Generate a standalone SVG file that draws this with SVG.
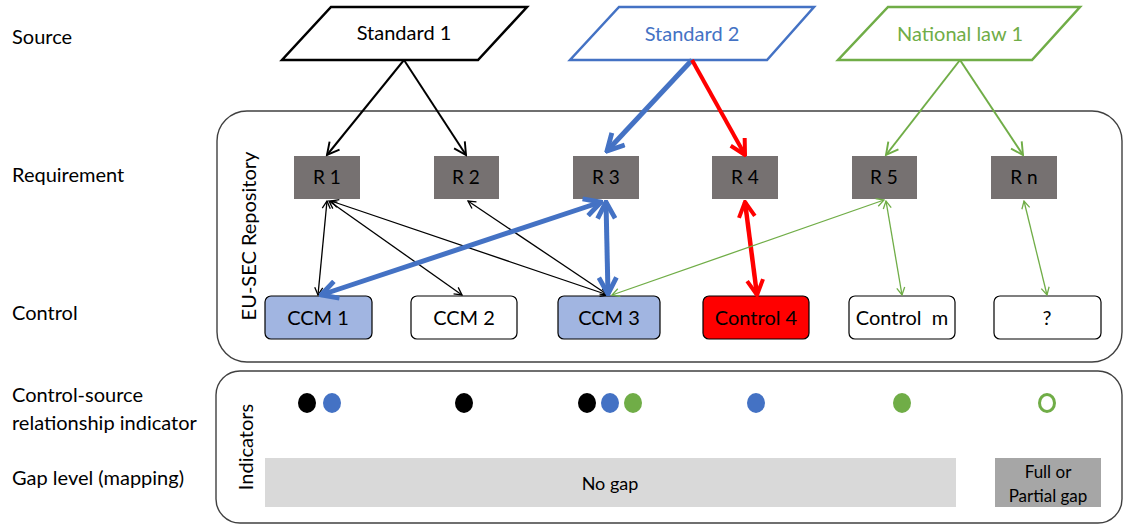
<svg xmlns="http://www.w3.org/2000/svg" width="1124" height="524" viewBox="0 0 1124 524">
<style>
text{font-family:Lato,"Liberation Sans",sans-serif;fill:#000}
.lbl{font-size:20px}
.src{font-size:20px;text-anchor:middle}
.req rect{fill:#767171}
.req text{font-size:19px;text-anchor:middle}
.ctl rect{stroke:#000;stroke-width:1.2}
.ctl text{font-size:20px;text-anchor:middle;white-space:pre}
.frame{fill:none;stroke:#404040;stroke-width:1.4}
</style>
<defs>
<marker id="mBk" viewBox="0 0 20 20" refX="18" refY="10" markerWidth="16" markerHeight="16" markerUnits="userSpaceOnUse" orient="auto-start-reverse"><path d="M3,2 L18,10 L3,18" fill="none" stroke="#000" stroke-width="2.4"/></marker>
<marker id="mBkS" viewBox="0 0 20 20" refX="18" refY="10" markerWidth="10" markerHeight="10" markerUnits="userSpaceOnUse" orient="auto-start-reverse"><path d="M3,2 L18,10 L3,18" fill="none" stroke="#000" stroke-width="2.6"/></marker>
<marker id="mBl" viewBox="0 0 20 20" refX="18" refY="10" markerWidth="22" markerHeight="22" markerUnits="userSpaceOnUse" orient="auto-start-reverse"><path d="M3,2 L18,10 L3,18" fill="none" stroke="#4472C4" stroke-width="4.4"/></marker>
<marker id="mRd" viewBox="0 0 20 20" refX="18" refY="10" markerWidth="20" markerHeight="20" markerUnits="userSpaceOnUse" orient="auto-start-reverse"><path d="M3,2 L18,10 L3,18" fill="none" stroke="#FF0000" stroke-width="4"/></marker>
<marker id="mGn" viewBox="0 0 20 20" refX="18" refY="10" markerWidth="16" markerHeight="16" markerUnits="userSpaceOnUse" orient="auto-start-reverse"><path d="M3,2 L18,10 L3,18" fill="none" stroke="#70AD47" stroke-width="2.4"/></marker>
<marker id="mGnS" viewBox="0 0 20 20" refX="18" refY="10" markerWidth="10" markerHeight="10" markerUnits="userSpaceOnUse" orient="auto-start-reverse"><path d="M3,2 L18,10 L3,18" fill="none" stroke="#70AD47" stroke-width="2.6"/></marker>
</defs>

<g id="row-labels">
<text class="lbl" x="12" y="44">Source</text>
<text class="lbl" x="12" y="182">Requirement</text>
<text class="lbl" x="12" y="320">Control</text>
<text class="lbl" x="12" y="402">Control-source</text>
<text class="lbl" x="12" y="430">relationship indicator</text>
<text class="lbl" x="12" y="485">Gap level (mapping)</text>
</g>

<g id="repository">
<rect class="frame" x="217" y="111" width="905" height="251" rx="30" ry="30"/>
<text class="lbl" transform="translate(256,236) rotate(-90)" text-anchor="middle">EU-SEC Repository</text>
</g>

<g id="indicators-panel">
<rect class="frame" x="216" y="371" width="906" height="152" rx="24" ry="24"/>
<text class="lbl" transform="translate(253,447) rotate(-90)" text-anchor="middle">Indicators</text>
</g>

<g id="standard1">
<polygon points="331,7 527,7 478,60 282,60" fill="#fff" stroke="#000" stroke-width="2.5"/>
<text class="src" x="404" y="40">Standard 1</text>
</g>
<g id="standard2">
<polygon points="619,7 814,7 767,60 570,60" fill="#fff" stroke="#4472C4" stroke-width="2.5"/>
<text class="src" x="692" y="41" style="fill:#4472C4">Standard 2</text>
</g>
<g id="national-law1">
<polygon points="888,7 1080,7 1032,60 838,60" fill="#fff" stroke="#70AD47" stroke-width="2.5"/>
<text class="src" x="960" y="41" style="fill:#70AD47">National law 1</text>
</g>

<g id="r1" class="req"><rect x="294" y="156" width="66" height="43"/><text x="327" y="184">R 1</text></g>
<g id="r2" class="req"><rect x="434" y="156" width="65" height="43"/><text x="466" y="184">R 2</text></g>
<g id="r3" class="req"><rect x="573" y="156" width="66" height="43"/><text x="606" y="184">R 3</text></g>
<g id="r4" class="req"><rect x="712" y="156" width="66" height="43"/><text x="745" y="184">R 4</text></g>
<g id="r5" class="req"><rect x="852" y="156" width="65" height="43"/><text x="884" y="184">R 5</text></g>
<g id="rn" class="req"><rect x="991" y="156" width="66" height="43"/><text x="1024" y="184">R n</text></g>

<g id="ccm1" class="ctl"><rect x="265" y="296" width="107" height="43" rx="6" fill="#A1B5E1"/><text x="318" y="325">CCM 1</text></g>
<g id="ccm2" class="ctl"><rect x="411" y="296" width="106" height="43" rx="6" fill="#fff"/><text x="464" y="325">CCM 2</text></g>
<g id="ccm3" class="ctl"><rect x="558" y="296" width="102" height="43" rx="6" fill="#A1B5E1"/><text x="609" y="325">CCM 3</text></g>
<g id="control4" class="ctl"><rect x="703" y="296" width="106" height="43" rx="6" fill="#FF0000"/><text x="756" y="325">Control 4</text></g>
<g id="controlm" class="ctl"><rect x="849" y="296" width="106" height="43" rx="6" fill="#fff"/><text x="902" y="325" xml:space="preserve">Control  m</text></g>
<g id="control-unknown" class="ctl"><rect x="994" y="296" width="107" height="43" rx="6" fill="#fff"/><text x="1047" y="325">?</text></g>

<g id="connectors" fill="none">
<line x1="404" y1="60" x2="327" y2="155" stroke="#000" stroke-width="2" marker-end="url(#mBk)"/>
<line x1="404" y1="60" x2="466" y2="155" stroke="#000" stroke-width="2" marker-end="url(#mBk)"/>
<line x1="692" y1="60" x2="607" y2="151" stroke="#4472C4" stroke-width="5" marker-end="url(#mBl)"/>
<line x1="692" y1="60" x2="745" y2="155" stroke="#FF0000" stroke-width="4" marker-end="url(#mRd)"/>
<line x1="960" y1="60" x2="886" y2="155" stroke="#70AD47" stroke-width="2" marker-end="url(#mGn)"/>
<line x1="960" y1="60" x2="1023" y2="155" stroke="#70AD47" stroke-width="2" marker-end="url(#mGn)"/>

<line x1="327" y1="201" x2="318" y2="295" stroke="#000" stroke-width="1.3" marker-start="url(#mBkS)" marker-end="url(#mBkS)"/>
<line x1="329" y1="201" x2="462" y2="295" stroke="#000" stroke-width="1.3" marker-start="url(#mBkS)" marker-end="url(#mBkS)"/>
<line x1="331" y1="201" x2="608" y2="295" stroke="#000" stroke-width="1.3" marker-start="url(#mBkS)" marker-end="url(#mBkS)"/>
<line x1="468" y1="201" x2="608" y2="295" stroke="#000" stroke-width="1.3" marker-start="url(#mBkS)" marker-end="url(#mBkS)"/>

<line x1="321" y1="295" x2="601" y2="202" stroke="#4472C4" stroke-width="5" marker-start="url(#mBl)" marker-end="url(#mBl)"/>
<line x1="606" y1="202" x2="608" y2="294" stroke="#4472C4" stroke-width="5" marker-start="url(#mBl)" marker-end="url(#mBl)"/>
<line x1="745" y1="202" x2="757" y2="295" stroke="#FF0000" stroke-width="4.5" marker-start="url(#mRd)" marker-end="url(#mRd)"/>

<line x1="884" y1="200" x2="612" y2="295" stroke="#70AD47" stroke-width="1.3" marker-start="url(#mGnS)" marker-end="url(#mGnS)"/>
<line x1="886" y1="201" x2="902" y2="295" stroke="#70AD47" stroke-width="1.3" marker-start="url(#mGnS)" marker-end="url(#mGnS)"/>
<line x1="1024" y1="201" x2="1047" y2="295" stroke="#70AD47" stroke-width="1.3" marker-start="url(#mGnS)" marker-end="url(#mGnS)"/>
</g>

<g id="indicator-dots">
<ellipse cx="307" cy="403" rx="9" ry="10" fill="#000"/>
<ellipse cx="332" cy="403" rx="9" ry="10" fill="#4472C4"/>
<ellipse cx="464" cy="403" rx="9" ry="10" fill="#000"/>
<ellipse cx="587" cy="403" rx="9" ry="10" fill="#000"/>
<ellipse cx="610" cy="403" rx="9" ry="10" fill="#4472C4"/>
<ellipse cx="633" cy="403" rx="9" ry="10" fill="#70AD47"/>
<ellipse cx="756" cy="403" rx="9" ry="10" fill="#4472C4"/>
<ellipse cx="902" cy="403" rx="9" ry="10" fill="#70AD47"/>
<ellipse cx="1047" cy="403" rx="7.5" ry="8.5" fill="#fff" stroke="#70AD47" stroke-width="3"/>
</g>

<g id="gap-no">
<rect x="265" y="458" width="691" height="49" fill="#D9D9D9"/>
<text x="610" y="490" font-size="18" text-anchor="middle">No gap</text>
</g>
<g id="gap-full-partial">
<rect x="995" y="458" width="106" height="49" fill="#A6A6A6"/>
<text x="1048" y="478" font-size="17" text-anchor="middle">Full or</text>
<text x="1048" y="502" font-size="17" text-anchor="middle">Partial gap</text>
</g>
</svg>
